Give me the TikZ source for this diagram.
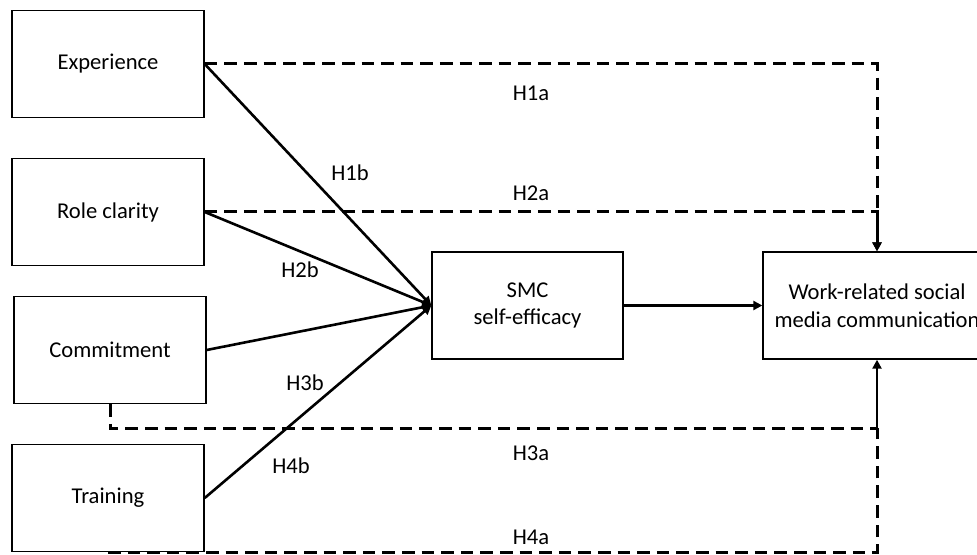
\documentclass[tikz,border=0pt]{standalone}
\usepackage{fontspec}
\setmainfont{Carlito}
\usetikzlibrary{arrows.meta}

\begin{document}
\begin{tikzpicture}[x=0.5pt, y=-0.5pt, every node/.style={font=\fontsize{11.3}{13.8}\selectfont},
  var/.style={draw, line width=0.7pt, minimum width=96pt, minimum height=53.5pt, inner sep=2pt, align=center},
  link/.style={line width=1.3pt, -{Triangle[length=4.5pt,width=4.5pt]}},
  hyp/.style={link, line width=1.5pt, dash pattern=on 6.3pt off 3.5pt},
  lbl/.style={inner sep=1pt}]

  % bounding box (the outcome box runs off the right edge)
  \useasboundingbox (0,0) rectangle (977,555);

  % ---- predictors ----
  \node[var] (exp)   at (108,64)  {Experience};
  \node[var] (role)  at (108,212) {Role clarity};
  \node[var] (comm)  at (110,350) {Commitment};
  \node[var] (train) at (108,498) {Training};

  % ---- mediator and outcome ----
  \node[var, minimum width=95.5pt] (smc)   at (527.5,305.5) {SMC\\self-efficacy};
  \node[var, minimum width=114pt]  (wrsmc) at (877,305.5)   {Work-related social\\media communication};

  % indirect paths (b)
  \draw[link] (exp.east)   -- (smc.west);
  \draw[link] (role.east)  -- (smc.west);
  \draw[link] (comm.east)  -- (smc.west);
  \draw[link] (train.east) -- (smc.west);
  \draw[link] (smc.east)   -- (wrsmc.west);

  % direct paths (a)
  \draw[hyp] (exp.east)  -| (wrsmc.north);
  \draw[hyp] (role.east) -| (wrsmc.north);
  \coordinate (j3) at (877,428);
  \draw[hyp, -] (comm.south)  |- (j3);
  \draw[hyp, -] (train.south) -| (j3);
  \draw[link] (j3) -- (wrsmc.south);

  % labels
  \node[lbl] (h1a) at (531,93)  {H1a};
  \node[lbl] (h2a) at (531,193) {H2a};
  \node[lbl] (h3a) at (531,453) {H3a};
  \node[lbl] (h4a) at (531,537) {H4a};
  \node[lbl] (h1b) at (350,173) {H1b};
  \node[lbl] (h2b) at (300,270) {H2b};
  \node[lbl] (h3b) at (305,383) {H3b};
  \node[lbl] (h4b) at (291,466) {H4b};

\end{tikzpicture}
\end{document}
